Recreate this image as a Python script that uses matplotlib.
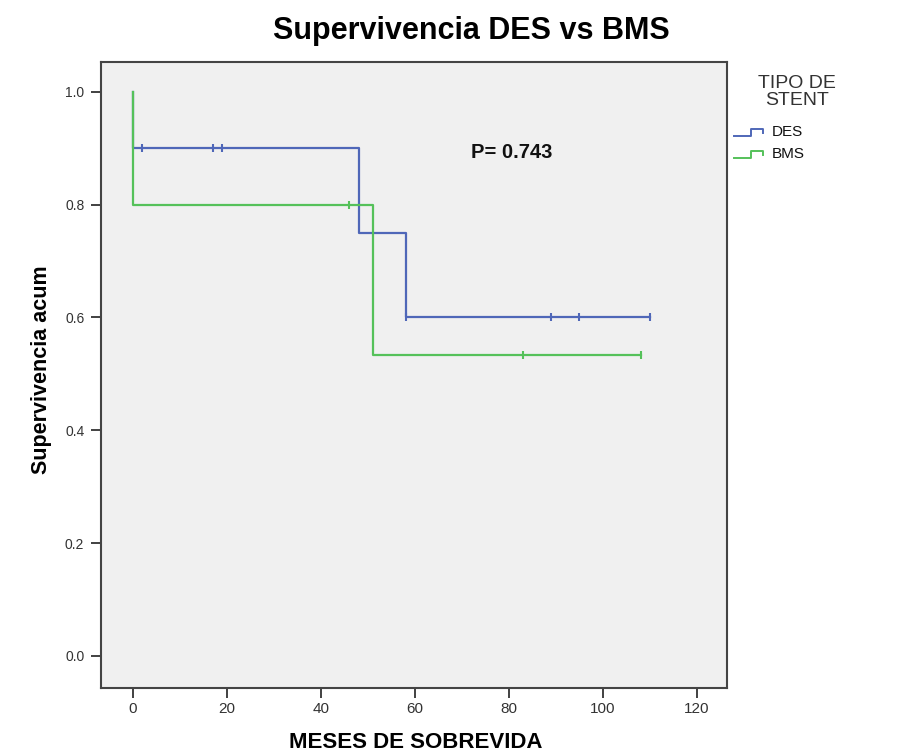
import matplotlib
matplotlib.use("Agg")
import matplotlib.pyplot as plt
from matplotlib.lines import Line2D

plt.rcParams['font.family'] = ['Liberation Sans', 'DejaVu Sans']

# Data (Kaplan-Meier steps)
des_times = [0, 0, 48, 58, 110]
des_surv = [1.0, 0.9, 0.75, 0.6, 0.6]
des_cens_t = [2, 17, 19, 58, 89, 95, 110]
des_cens_s = [0.9, 0.9, 0.9, 0.6, 0.6, 0.6, 0.6]

bms_times = [0, 0, 51, 108]
bms_surv = [1.0, 0.8, 0.533, 0.533]
bms_cens_t = [46, 83, 108]
bms_cens_s = [0.8, 0.533, 0.533]

xticks = [0, 20, 40, 60, 80, 100, 120]
yticks = [0.0, 0.2, 0.4, 0.6, 0.8, 1.0]

c_des = '#4f67b8'
c_bms = '#55c15a'

fig = plt.figure(figsize=(9.08, 7.54), dpi=100)
ax = fig.add_axes([101/908, 1-688/754, 626/908, 626/754])
ax.set_facecolor('#f0f0f0')

ax.step(des_times, des_surv, where='post', color=c_des, lw=1.6)
ax.plot(des_cens_t, des_cens_s, ls='none', marker='|', ms=6, mew=1.5, color=c_des)
ax.step(bms_times, bms_surv, where='post', color=c_bms, lw=1.6)
ax.plot(bms_cens_t, bms_cens_s, ls='none', marker='|', ms=6, mew=1.5, color=c_bms)

ax.set_xlim(-6.8, 126.4)
ax.set_ylim(-0.057, 1.053)
ax.set_xticks(xticks)
ax.set_xticklabels([str(v) for v in xticks], fontsize=11, color='#333333')
ax.set_yticks(yticks)
ax.set_yticklabels([f"{v:.1f}" for v in yticks], fontsize=10, color='#333333')
ax.tick_params(axis='y', direction='out', length=7, width=1.3, color='#333333', pad=5)
ax.tick_params(axis='x', direction='out', length=7, width=1.3, color='#333333', pad=3)
for s in ax.spines.values():
    s.set_color('#444444')
    s.set_linewidth(1.5)

ax.text(80.5, 0.893, "P= 0.743", ha='center', va='center', fontsize=14.5,
        fontweight='bold', color='#111111')

fig.text(471/908, 1-31/754, "Supervivencia DES vs BMS", ha='center', va='center',
         fontsize=22, fontweight='bold')
fig.text(416/908, 1-743/754, "MESES DE SOBREVIDA", ha='center', va='center',
         fontsize=16, fontweight='bold')
fig.text(42/908, 1-370/754, "Supervivencia acum", ha='center', va='center',
         rotation=90, fontsize=15.5, fontweight='bold')

# legend
fig.text(797/908, 1-92/754, "TIPO DE\nSTENT", ha='center', va='center',
         fontsize=14, color='#333333', linespacing=0.95)
for ycen, col, lab in [(131, c_des, "DES"), (153, c_bms, "BMS")]:
    xs = [734, 751, 751, 763, 763]
    ys = [ycen + 5, ycen + 5, ycen - 2, ycen - 2, ycen + 2]
    fig.add_artist(Line2D([x/908 for x in xs], [1-y/754 for y in ys], color=col, lw=1.4))
    fig.text(772/908, 1-(ycen+1)/754, lab, ha='left', va='center', fontsize=11,
             color='#111111')

fig.savefig("out.png", dpi=100)
